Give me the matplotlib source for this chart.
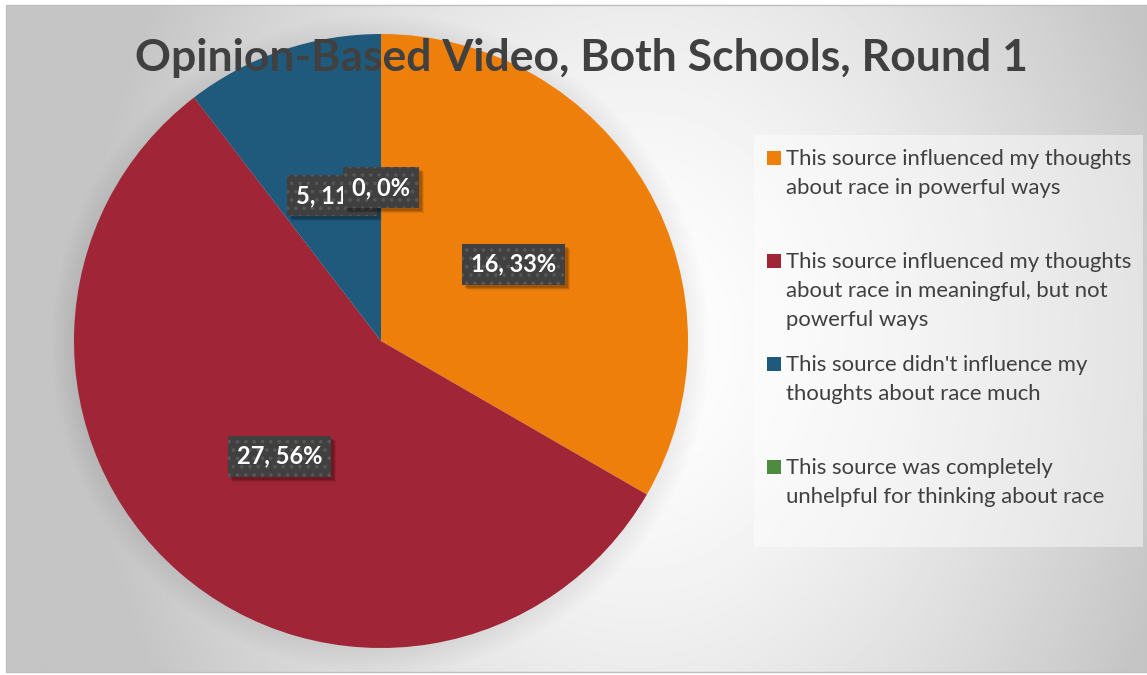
import numpy as np
import matplotlib
matplotlib.use("Agg")
import matplotlib.pyplot as plt
from matplotlib.patches import Rectangle, Circle

# ---- data ----
title = "Opinion-Based Video, Both Schools, Round 1"
categories = [
    "This source influenced my thoughts\nabout race in powerful ways",
    "This source influenced my thoughts\nabout race in meaningful, but not\npowerful ways",
    "This source didn't influence my\nthoughts about race much",
    "This source was completely\nunhelpful for thinking about race",
]
counts = [16, 27, 5, 0]
percents = [33, 56, 11, 0]
colors = ["#ef7f0b", "#a02537", "#1f5a7c", "#4e8a3f"]

W, H = 1147, 675
plt.rcParams["font.family"] = ["Lato", "DejaVu Sans"]
fig = plt.figure(figsize=(W / 100, H / 100), dpi=100)

# background axes in pixel units (y down)
bg = fig.add_axes([0, 0, 1, 1])
bg.set_xlim(0, W)
bg.set_ylim(H, 0)
bg.axis("off")

# radial grey gradient of the chart area
x0, x1, y0, y1 = 6, 1147, 5, 672
xx, yy = np.meshgrid(np.linspace(x0, x1, 600), np.linspace(y0, y1, 400))
t = np.sqrt(((xx - 640) / 560) ** 2 + ((yy - 340) / 700) ** 2)
t = np.clip(t, 0, 1)
shade = 1 - 0.23 * t ** 1.5
bg.imshow(shade, cmap="gray", vmin=0, vmax=1, extent=(x0, x1, y1, y0),
          interpolation="bilinear", zorder=0)
bg.add_patch(Rectangle((x0, y0), x1 - x0, y1 - y0, fill=False,
                       edgecolor="#bfbfbf", lw=1, zorder=1))

# soft halo behind the pie
cx, cy, R = 381, 341, 307
for k in range(8):
    bg.add_patch(Circle((cx, cy + 3), R + 1 + k * 3, color="black",
                        alpha=0.009, lw=0, zorder=1))

# legend panel
bg.add_patch(Rectangle((754, 135), 389, 412, facecolor="white",
                       alpha=0.45, lw=0, zorder=2))
entry_y = [158, 261, 364, 467]
for lab, col, ey in zip(categories, colors, entry_y):
    bg.add_patch(Rectangle((767, ey - 7), 14, 14, facecolor=col, lw=0, zorder=3))
    for i, line in enumerate(lab.split("\n")):
        bg.text(786, ey + 7 + i * 29, line, fontsize=15.9, color="#404040",
                va="baseline", ha="left", zorder=3)

# ---- pie ----
ax = fig.add_axes([(cx - R) / W, (H - cy - R) / H, 2 * R / W, 2 * R / H])
wedges, _ = ax.pie(counts, colors=colors, startangle=90, counterclock=False,
                   wedgeprops=dict(linewidth=0))
ax.set_xlim(-1, 1)
ax.set_ylim(-1, 1)
ax.axis("off")

# data labels: value, percent in a dotted dark box
plt.rcParams["hatch.linewidth"] = 1.5
labels = []
for w, n, p in zip(wedges, counts, percents):
    mid = np.deg2rad((w.theta1 + w.theta2) / 2)
    lx, ly = 0.5 * np.cos(mid), 0.5 * np.sin(mid)
    txt = ax.text(lx, ly, f"{n}, {p}%", ha="center", va="center", fontsize=17,
                  fontweight="bold", color="white", zorder=5,
                  bbox=dict(boxstyle="square,pad=0.38", facecolor="#404040",
                            edgecolor="#565656", hatch="..", lw=0))
    labels.append(txt)

# soft drop shadow under each label box
fig.canvas.draw()
inv = ax.transData.inverted()
for i, txt in enumerate(labels):
    ext = txt.get_bbox_patch().get_window_extent()
    for off, a in [(5, 0.08), (4, 0.12), (3, 0.15)]:
        (ax0, ay0), (ax1, ay1) = inv.transform([(ext.x0 + off, ext.y0 - off),
                                                (ext.x1 + off, ext.y1 - off)])
        ax.add_patch(Rectangle((ax0, ay0), ax1 - ax0, ay1 - ay0,
                               facecolor="black", alpha=a, lw=0,
                               zorder=4 + i * 0.01))
    txt.set_zorder(4.005 + i * 0.01)

fig.text(581 / W, 1 - 71 / H, title, fontsize=32, fontweight="bold",
         color="#404040", ha="center", va="baseline", zorder=10)

fig.savefig("out.png", dpi=100)
